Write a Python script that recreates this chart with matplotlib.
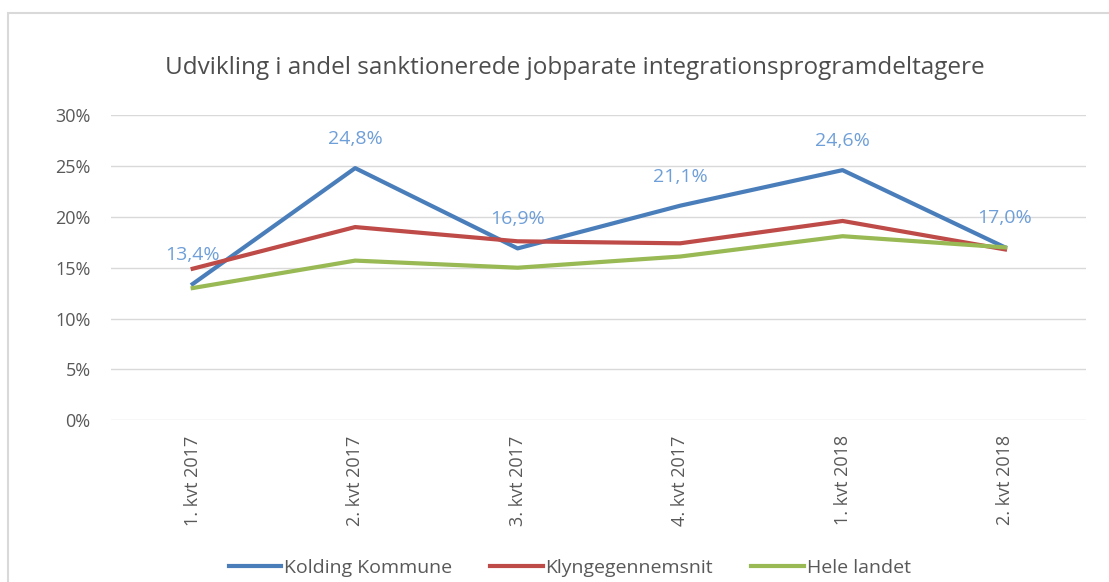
import matplotlib.pyplot as plt
from matplotlib.patches import Rectangle
from matplotlib.ticker import FuncFormatter

# data (percent)
categories = ['1. kvt 2017', '2. kvt 2017', '3. kvt 2017', '4. kvt 2017', '1. kvt 2018', '2. kvt 2018']
kolding = [13.4, 24.8, 16.9, 21.1, 24.6, 17.0]
klynge = [14.9, 19.0, 17.6, 17.4, 19.6, 16.8]
hele_landet = [13.0, 15.7, 15.0, 16.1, 18.1, 17.0]
series_names = ['Kolding Kommune', 'Klyngegennemsnit', 'Hele landet']

plt.rcParams['font.family'] = ['Open Sans', 'DejaVu Sans']

fig = plt.figure(figsize=(11.09, 5.82), dpi=100)
ax = fig.add_axes([0.1005, 0.278, 0.879, 0.524])

# light chart border like the Excel chart frame
fig.patches.append(Rectangle((8 / 1109, -0.1), 1.2, (582 - 13) / 582 + 0.1,
                             transform=fig.transFigure, fill=False,
                             edgecolor='#d9d9d9', linewidth=1.5))

x = list(range(len(categories)))
ax.plot(x, kolding, color='#4a7ebb', linewidth=3, label=series_names[0])
ax.plot(x, klynge, color='#be4b48', linewidth=3, label=series_names[1])
ax.plot(x, hele_landet, color='#98b954', linewidth=3, label=series_names[2])

for xi, v in zip(x, kolding):
    ax.annotate(f'{v:.1f}%'.replace('.', ','), (xi, v), xytext=(0, 21),
                textcoords='offset points', ha='center', va='center',
                color='#6f9fd8', fontsize=14)

ax.set_xlim(-0.5, len(categories) - 0.5)
ax.set_ylim(0, 30)
ax.set_yticks(range(0, 31, 5))
ax.yaxis.set_major_formatter(FuncFormatter(lambda v, p: f'{v:.0f}%'))
ax.set_xticks(x)
ax.set_xticklabels(categories, rotation=90)
ax.tick_params(axis='both', length=0, colors='#595959', labelsize=13)
ax.tick_params(axis='y', pad=15)
ax.tick_params(axis='x', pad=11)
ax.grid(axis='y', color='#d9d9d9', linewidth=1)
ax.set_axisbelow(True)
for s in ax.spines.values():
    s.set_visible(False)

fig.text(0.518, 0.883, 'Udvikling i andel sanktionerede jobparate integrationsprogramdeltagere',
         ha='center', va='center', fontsize=17.5, color='#4d4d4d')

ax.legend(loc='center', bbox_to_anchor=(0.47, -0.485), ncol=3, frameon=False,
          fontsize=14, handlelength=2.7, handletextpad=0.15, columnspacing=1.95,
          labelcolor='#595959')

fig.savefig('out.png', dpi=100)
